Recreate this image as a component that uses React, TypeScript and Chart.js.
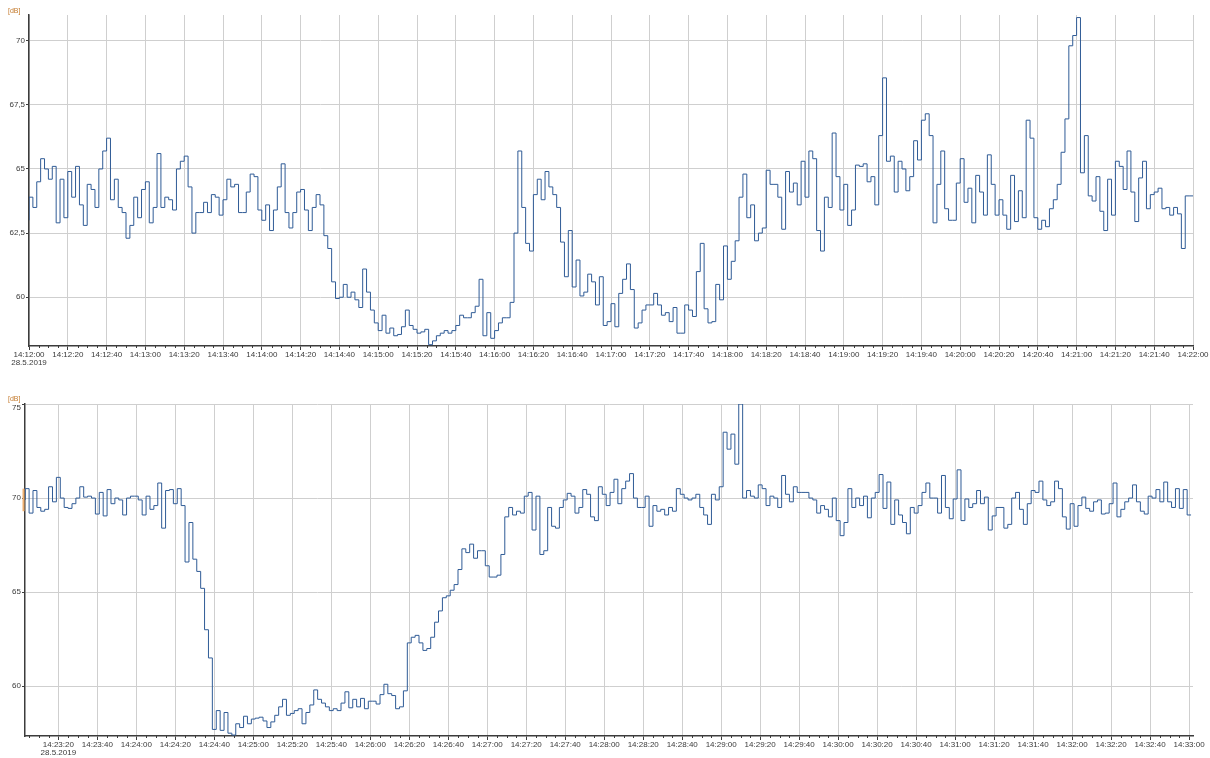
import React, { useEffect, useRef } from 'react';
import { Chart, registerables } from 'chart.js';

Chart.register(...registerables);

const DATE_LABEL = '28.5.2019';
const UNIT_LABEL = '[dB]';

// ---------- top chart ----------
const topStartTime = '14:12:00';
const topEndTime = '14:22:00';
const topStepSeconds = 2;
const topValues = [
  63.0, 63.9, 63.5, 64.5, 65.4, 65.0, 64.6, 65.1, 62.9, 64.6,
  63.1, 64.9, 63.9, 65.1, 63.6, 62.8, 64.4, 64.2, 63.5, 65.0,
  65.7, 66.2, 63.8, 64.6, 63.5, 63.3, 62.3, 62.8, 63.9, 63.1,
  64.2, 64.5, 62.9, 63.5, 65.6, 63.5, 63.9, 63.8, 63.4, 65.0,
  65.3, 65.5, 64.3, 62.5, 63.3, 63.3, 63.7, 63.3, 64.0, 63.9,
  63.2, 63.8, 64.6, 64.3, 64.4, 63.3, 63.3, 64.1, 64.8, 64.7,
  63.4, 63.0, 63.6, 62.6, 63.4, 64.3, 65.2, 63.3, 62.7, 63.3,
  64.1, 64.2, 63.4, 62.6, 63.5, 64.0, 63.6, 62.4, 61.9, 60.6,
  59.95, 60.0, 60.5, 60.0, 60.2, 59.9, 59.6, 61.1, 60.2, 59.5,
  59.0, 58.7, 59.3, 58.6, 58.8, 58.5, 58.55, 58.85, 59.5, 58.9,
  58.75, 58.6, 58.65, 58.75, 58.15, 58.3, 58.5, 58.6, 58.7, 58.6,
  58.7, 58.9, 59.3, 59.2, 59.2, 59.4, 59.65, 60.7, 58.5, 59.4,
  58.4, 58.7, 59.0, 59.2, 59.2, 59.8, 62.5, 65.7, 63.5, 62.1,
  61.8, 64.0, 64.6, 63.8, 64.9, 64.3, 64.0, 63.5, 62.15, 60.8,
  62.6, 60.4, 61.45, 60.05, 60.2, 60.9, 60.6, 59.7, 60.8, 58.9,
  59.05, 59.75, 58.85, 60.15, 60.7, 61.3, 60.3, 58.8, 59.0, 59.5,
  59.7, 59.7, 60.15, 59.7, 59.3, 59.4, 59.05, 59.6, 58.6, 58.6,
  59.7, 59.5, 59.25, 61.0, 62.1, 59.55, 59.0, 59.05, 60.5, 59.9,
  62.0, 60.7, 61.4, 62.2, 63.9, 64.8, 63.1, 63.6, 62.2, 62.5,
  62.7, 64.95, 64.4, 64.4, 63.9, 62.65, 64.9, 64.1, 64.45, 63.6,
  65.3, 63.9, 65.7, 65.4, 62.6, 61.8, 63.9, 63.5, 66.4, 64.7,
  63.4, 64.4, 62.8, 63.4, 65.15, 65.1, 65.2, 64.5, 64.7, 63.6,
  66.3, 68.55, 65.3, 65.5, 64.1, 65.3, 65.0, 64.15, 64.7, 66.1,
  65.35, 66.9, 67.15, 66.3, 62.9, 64.4, 65.7, 63.45, 63.0, 63.0,
  64.45, 65.4, 63.7, 64.25, 62.9, 64.75, 64.1, 63.2, 65.55, 64.4,
  63.2, 63.8, 63.2, 62.65, 64.75, 62.95, 64.15, 63.1, 66.9, 66.2,
  63.1, 62.65, 63.0, 62.75, 63.45, 63.8, 64.4, 65.65, 66.95, 69.8,
  70.2, 70.9, 64.85, 66.3, 63.95, 63.75, 64.7, 63.35, 62.6, 64.6,
  63.2, 65.3, 65.1, 64.2, 65.7, 64.1, 62.95, 64.65, 65.3, 63.45,
  64.0, 64.1, 64.25, 63.45, 63.5, 63.2, 63.5, 63.25, 61.9, 63.95,
];
const topTickLabels = [
  '14:12:00', '14:12:20', '14:12:40', '14:13:00', '14:13:20', '14:13:40',
  '14:14:00', '14:14:20', '14:14:40', '14:15:00', '14:15:20', '14:15:40',
  '14:16:00', '14:16:20', '14:16:40', '14:17:00', '14:17:20', '14:17:40',
  '14:18:00', '14:18:20', '14:18:40', '14:19:00', '14:19:20', '14:19:40',
  '14:20:00', '14:20:20', '14:20:40', '14:21:00', '14:21:20', '14:21:40',
  '14:22:00',
];
const topYTicks = [60, 62.5, 65, 67.5, 70];
const topYMin = 58.1;
const topYMax = 71.0;

// ---------- bottom chart ----------
const bottomStartTime = '14:23:03';
const bottomStepSeconds = 2;
const bottomXMinTime = '14:23:03';
const bottomXMaxTime = '14:33:02';
const bottomValues = [
  69.9, 70.5, 69.2, 70.4, 69.5, 69.3, 69.4, 70.6, 69.8, 71.1,
  70.0, 69.5, 69.45, 69.7, 70.0, 70.6, 70.05, 70.1, 70.0, 69.15,
  70.3, 69.05, 70.45, 69.7, 70.0, 69.9, 69.1, 70.0, 70.1, 70.1,
  69.9, 69.1, 70.1, 69.4, 69.6, 70.8, 68.4, 70.4, 70.45, 69.7,
  70.5, 69.6, 66.6, 68.7, 66.75, 66.1, 65.2, 63.0, 61.5, 57.7,
  58.7, 57.65, 58.6, 57.5, 57.4, 58.0, 57.8, 58.4, 58.0, 58.25,
  58.3, 58.35, 58.15, 57.8, 58.1, 58.45, 58.9, 59.3, 58.45, 58.55,
  58.7, 58.8, 58.0, 58.6, 59.0, 59.8, 59.3, 59.1, 58.9, 58.7,
  58.8, 58.7, 59.1, 59.7, 58.85, 59.3, 58.9, 59.35, 58.8, 59.2,
  59.2, 59.05, 59.55, 60.1, 59.6, 59.5, 58.8, 58.9, 59.75, 62.3,
  62.6, 62.7, 62.3, 61.9, 62.0, 62.6, 63.4, 64.0, 64.7, 64.8,
  65.1, 65.4, 66.2, 67.3, 67.1, 67.55, 66.8, 67.2, 67.2, 66.4,
  65.8, 65.8, 65.9, 67.0, 69.0, 69.5, 69.1, 69.3, 69.2, 70.1,
  70.3, 68.3, 70.1, 67.0, 67.2, 69.5, 68.5, 68.4, 69.5, 69.9,
  70.25, 70.1, 69.2, 69.5, 70.45, 70.2, 69.0, 68.8, 70.6, 70.2,
  69.6, 70.3, 71.0, 69.7, 70.5, 70.9, 71.3, 70.0, 69.5, 69.5,
  70.1, 68.5, 69.6, 69.3, 69.4, 69.1, 69.5, 69.3, 70.5, 70.2,
  70.0, 69.9, 70.0, 70.2, 69.5, 69.1, 68.6, 70.2, 69.9, 70.6,
  73.5, 72.6, 73.4, 71.8, 75.0, 70.0, 70.4, 70.1, 70.0, 70.7,
  70.5, 69.6, 70.1, 70.0, 69.5, 71.2, 70.2, 69.8, 70.6, 70.3,
  70.3, 70.3, 70.0, 69.9, 69.2, 69.6, 69.4, 69.0, 70.0, 68.8,
  68.0, 68.7, 70.5, 69.5, 70.0, 69.6, 70.1, 68.95, 70.0, 70.3,
  71.25, 69.45, 70.85, 68.6, 69.9, 69.1, 68.7, 68.1, 69.5, 69.2,
  69.6, 70.3, 70.8, 70.0, 70.0, 69.2, 71.2, 69.5, 68.9, 69.95,
  71.5, 68.8, 69.95, 69.5, 69.7, 70.4, 69.7, 70.05, 68.3, 69.05,
  69.5, 69.5, 68.4, 68.6, 70.0, 70.3, 69.4, 68.6, 69.7, 70.4,
  70.3, 70.9, 69.9, 69.6, 69.8, 70.9, 70.5, 69.0, 68.35, 69.7,
  68.5, 69.6, 70.05, 69.45, 69.3, 69.8, 69.9, 69.15, 69.2, 69.7,
  70.8, 69.0, 69.4, 69.8, 70.0, 70.7, 69.8, 69.3, 69.15, 70.1,
  70.0, 70.45, 69.8, 70.85, 69.8, 69.5, 70.5, 69.45, 70.45, 69.1,
];
const bottomTickLabels = [
  '14:23:20', '14:23:40', '14:24:00', '14:24:20', '14:24:40', '14:25:00',
  '14:25:20', '14:25:40', '14:26:00', '14:26:20', '14:26:40', '14:27:00',
  '14:27:20', '14:27:40', '14:28:00', '14:28:20', '14:28:40', '14:29:00',
  '14:29:20', '14:29:40', '14:30:00', '14:30:20', '14:30:40', '14:31:00',
  '14:31:20', '14:31:40', '14:32:00', '14:32:20', '14:32:40', '14:33:00',
];
const bottomYTicks = [60, 65, 70, 75];
const bottomYMin = 57.35;
const bottomYMax = 75;
// orange level marker on the left axis of the lower chart
const bottomAxisMarker = [69.3, 70.5];

// ---------- helpers ----------
const toSec = (s: string) => {
  const [h, m, sec] = s.split(':').map(Number);
  return h * 3600 + m * 60 + sec;
};
const fmtNum = (v: number) => String(v).replace('.', ',');

const LINE_COLOR = '#2f5b96';
const TEXT_COLOR = '#3a3a3a';
const GRID_COLOR = '#cfcfcf';
const AXIS_COLOR = '#3c3c3c';
const UNIT_COLOR = '#c47a2c';
const FONT = "'Liberation Sans', Arial, sans-serif";

const decorPlugin = {
  id: 'decor',
  afterDraw(chart: any, _args: any, opts: any) {
    const { ctx, chartArea, scales } = chart;
    const xs = scales.x;
    const ys = scales.y;
    ctx.save();
    // minor ticks every 5 s
    ctx.strokeStyle = AXIS_COLOR;
    ctx.lineWidth = 1;
    const start = Math.ceil(xs.min / 5) * 5;
    for (let t = start; t <= xs.max; t += 5) {
      if (t % 20 === 0) continue;
      const px = Math.round(xs.getPixelForValue(t)) + 0.5;
      ctx.beginPath();
      ctx.moveTo(px, chartArea.bottom);
      ctx.lineTo(px, chartArea.bottom + 2);
      ctx.stroke();
    }
    // label of a tick that sits on the top edge, drawn just below it
    if (opts.edgeLabel != null) {
      ctx.fillStyle = TEXT_COLOR;
      ctx.font = `8px ${FONT}`;
      ctx.textAlign = 'right';
      ctx.textBaseline = 'middle';
      ctx.fillText(fmtNum(opts.edgeLabel), chartArea.left - 4, ys.getPixelForValue(opts.edgeLabel) + 4);
    }
    // axis marker
    if (opts.marker) {
      const y1 = ys.getPixelForValue(opts.marker[1]);
      const y2 = ys.getPixelForValue(opts.marker[0]);
      ctx.fillStyle = '#f0b070';
      ctx.fillRect(chartArea.left - 2.5, y1, 2, y2 - y1);
    }
    // unit label
    ctx.fillStyle = UNIT_COLOR;
    ctx.font = `7px ${FONT}`;
    ctx.textBaseline = 'alphabetic';
    ctx.textAlign = 'left';
    ctx.fillText(UNIT_LABEL, opts.unitX, opts.unitY);
    ctx.restore();
  },
};

function makeConfig(p: {
  values: number[];
  startTime: string;
  step: number;
  endPoint?: { time: string };
  xMin: number;
  xMax: number;
  tickLabels: string[];
  yTicks: number[];
  yMin: number;
  yMax: number;
  yWidth: number;
  xHeight: number;
  padTop: number;
  padRight: number;
  unitY: number;
  marker?: number[];
}) {
  const start = toSec(p.startTime);
  const data = p.values.map((v, i) => ({ x: start + i * p.step, y: v }));
  if (p.endPoint) {
    data.push({ x: toSec(p.endPoint.time), y: p.values[p.values.length - 1] });
  }
  const tickVals = p.tickLabels.map(toSec);
  const edgeLabel = p.yTicks.includes(p.yMax) ? p.yMax : null;
  return {
    type: 'line',
    data: {
      datasets: [
        {
          data,
          borderColor: LINE_COLOR,
          borderWidth: 1,
          pointRadius: 0,
          stepped: 'after',
          fill: false,
        },
      ],
    },
    options: {
      animation: false,
      responsive: false,
      events: [],
      layout: { padding: { top: p.padTop, right: p.padRight, left: 0, bottom: 0 } },
      plugins: {
        legend: { display: false },
        tooltip: { enabled: false },
        decor: { unitX: 8, unitY: p.unitY, edgeLabel, marker: p.marker || null },
      },
      scales: {
        x: {
          type: 'linear',
          min: p.xMin,
          max: p.xMax,
          afterFit: (s: any) => {
            s.height = p.xHeight;
          },
          afterBuildTicks: (s: any) => {
            s.ticks = tickVals.map((v) => ({ value: v }));
          },
          grid: { color: GRID_COLOR, lineWidth: 1, tickColor: AXIS_COLOR, tickLength: 4 },
          border: { color: AXIS_COLOR, width: 1.5 },
          ticks: {
            autoSkip: false,
            maxRotation: 0,
            padding: 0,
            color: TEXT_COLOR,
            font: { size: 8, family: FONT, lineHeight: 1.1 },
            callback: (v: number) => {
              const idx = tickVals.indexOf(v);
              if (idx < 0) return '';
              return idx === 0 ? [p.tickLabels[idx], DATE_LABEL] : p.tickLabels[idx];
            },
          },
        },
        y: {
          type: 'linear',
          min: p.yMin,
          max: p.yMax,
          afterFit: (s: any) => {
            s.width = p.yWidth;
          },
          afterBuildTicks: (s: any) => {
            s.ticks = p.yTicks.map((v) => ({ value: v }));
          },
          grid: { color: GRID_COLOR, lineWidth: 1, tickColor: AXIS_COLOR, tickLength: 3 },
          border: { color: AXIS_COLOR, width: 1.5 },
          ticks: {
            padding: 1,
            color: TEXT_COLOR,
            font: { size: 8, family: FONT },
            callback: (v: number) => (v === edgeLabel ? '' : fmtNum(v)),
          },
        },
      },
    },
    plugins: [decorPlugin],
  } as any;
}

export default function App() {
  const topRef = useRef<HTMLCanvasElement>(null);
  const bottomRef = useRef<HTMLCanvasElement>(null);

  useEffect(() => {
    document.body.style.margin = '0';
    document.body.style.background = '#ffffff';
    const top = new Chart(
      topRef.current!,
      makeConfig({
        values: topValues,
        startTime: topStartTime,
        step: topStepSeconds,
        endPoint: { time: topEndTime },
        xMin: toSec(topStartTime),
        xMax: toSec(topEndTime),
        tickLabels: topTickLabels,
        yTicks: topYTicks,
        yMin: topYMin,
        yMax: topYMax,
        yWidth: 29,
        xHeight: 32,
        padTop: 15,
        padRight: 17,
        unitY: 13,
      })
    );
    const bottom = new Chart(
      bottomRef.current!,
      makeConfig({
        values: bottomValues,
        startTime: bottomStartTime,
        step: bottomStepSeconds,
        xMin: toSec(bottomXMinTime) - 0.1,
        xMax: toSec(bottomXMaxTime),
        tickLabels: bottomTickLabels,
        yTicks: bottomYTicks,
        yMin: bottomYMin,
        yMax: bottomYMax,
        yWidth: 25,
        xHeight: 22,
        padTop: 26,
        padRight: 17,
        unitY: 23,
        marker: bottomAxisMarker,
      })
    );
    return () => {
      top.destroy();
      bottom.destroy();
    };
  }, []);

  return (
    <div style={{ position: 'fixed', left: 0, top: 0, width: 1210, height: 758, background: '#fff' }}>
      <canvas ref={topRef} width={1210} height={378} style={{ display: 'block', width: 1210, height: 378 }} />
      <canvas ref={bottomRef} width={1210} height={380} style={{ display: 'block', width: 1210, height: 380 }} />
    </div>
  );
}
